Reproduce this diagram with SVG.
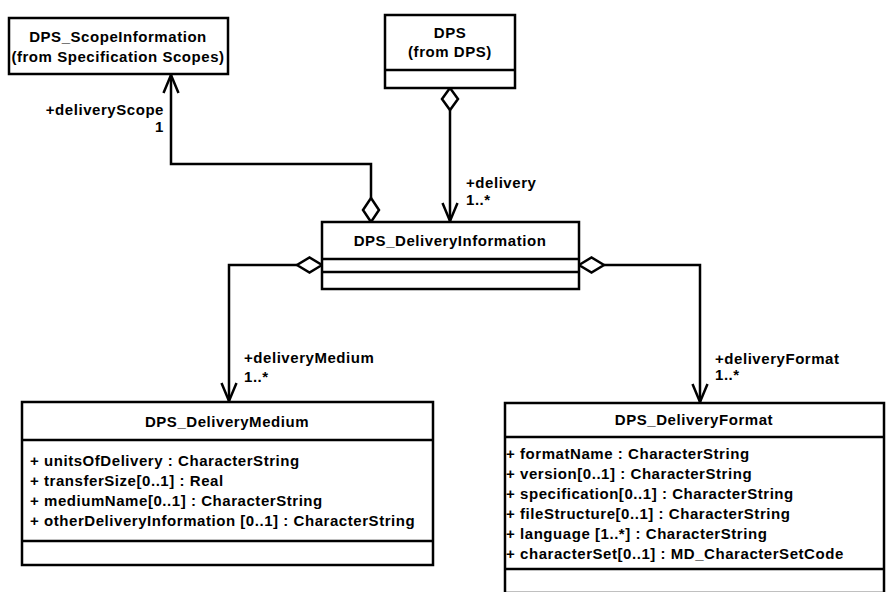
<svg xmlns="http://www.w3.org/2000/svg" width="886" height="592" viewBox="0 0 886 592">
<defs>
<style>
.box{fill:#fff;stroke:#000;stroke-width:2.5}
.div{stroke:#000;stroke-width:2.5}
.ln{fill:none;stroke:#000;stroke-width:2.5}
.dia{fill:#fff;stroke:#000;stroke-width:2.5}
text{font-family:"Liberation Sans",Arial,sans-serif;font-size:15px;font-weight:bold;fill:#000;letter-spacing:0.55px}
.c{text-anchor:middle}
.e{text-anchor:end}
</style>
<marker id="arr" markerWidth="22" markerHeight="20" refX="20" refY="10" orient="auto" markerUnits="userSpaceOnUse" viewBox="0 0 22 20">
<path d="M2,2.5 L20,10 L2,17.5" fill="none" stroke="#000" stroke-width="2.5"/>
</marker>
</defs>
<rect width="886" height="592" fill="#fff"/>

<g id="connectors">
<path class="ln" d="M371,198 L371,164 L171,164 L171,75" marker-end="url(#arr)"/>
<path class="dia" d="M371,198 L379,210 L371,222 L363,210 Z"/>
<path class="ln" d="M450,110 L450,221" marker-end="url(#arr)"/>
<path class="dia" d="M450,88 L458,99 L450,110 L442,99 Z"/>
<path class="ln" d="M297,265 L229,265 L229,401" marker-end="url(#arr)"/>
<path class="dia" d="M322,265 L309.5,272.5 L297,265 L309.5,257.5 Z"/>
<path class="ln" d="M604,265 L700,265 L700,402" marker-end="url(#arr)"/>
<path class="dia" d="M579,265 L591.5,257.5 L604,265 L591.5,272.5 Z"/>
<text class="e" x="164" y="115">+deliveryScope</text>
<text class="e" x="164" y="132">1</text>
<text x="466" y="188">+delivery</text>
<text x="466" y="205">1..*</text>
<text x="244" y="363">+deliveryMedium</text>
<text x="244" y="382">1..*</text>
<text x="715" y="364">+deliveryFormat</text>
<text x="715" y="380">1..*</text>
</g>

<g id="DPS_ScopeInformation">
<rect class="box" x="9" y="18" width="219" height="56"/>
<text class="c" x="118" y="42">DPS_ScopeInformation</text>
<text class="c" x="118" y="62">(from Specification Scopes)</text>
</g>

<g id="DPS">
<rect class="box" x="385" y="15" width="130" height="73"/>
<line class="div" x1="385" y1="70" x2="515" y2="70"/>
<text class="c" x="450" y="38">DPS</text>
<text class="c" x="450" y="57">(from DPS)</text>
</g>

<g id="DPS_DeliveryInformation">
<rect class="box" x="322" y="222" width="257" height="67"/>
<line class="div" x1="322" y1="259" x2="579" y2="259"/>
<line class="div" x1="322" y1="272" x2="579" y2="272"/>
<text class="c" x="450" y="246">DPS_DeliveryInformation</text>
</g>

<g id="DPS_DeliveryMedium">
<rect class="box" x="22" y="402" width="411" height="163"/>
<line class="div" x1="22" y1="440" x2="433" y2="440"/>
<line class="div" x1="22" y1="541" x2="433" y2="541"/>
<text class="c" x="227" y="427">DPS_DeliveryMedium</text>
<text x="30" y="466">+ unitsOfDelivery : CharacterString</text>
<text x="30" y="486">+ transferSize[0..1] : Real</text>
<text x="30" y="506">+ mediumName[0..1] : CharacterString</text>
<text x="30" y="526">+ otherDeliveryInformation [0..1] : CharacterString</text>
</g>

<g id="DPS_DeliveryFormat">
<rect class="box" x="505" y="403" width="379" height="190"/>
<line class="div" x1="505" y1="437" x2="884" y2="437"/>
<line class="div" x1="505" y1="569" x2="884" y2="569"/>
<text class="c" x="694" y="425">DPS_DeliveryFormat</text>
<text x="506" y="459">+ formatName : CharacterString</text>
<text x="506" y="479">+ version[0..1] : CharacterString</text>
<text x="506" y="499">+ specification[0..1] : CharacterString</text>
<text x="506" y="519">+ fileStructure[0..1] : CharacterString</text>
<text x="506" y="539">+ language [1..*] : CharacterString</text>
<text x="506" y="559">+ characterSet[0..1] : MD_CharacterSetCode</text>
</g>
</svg>
